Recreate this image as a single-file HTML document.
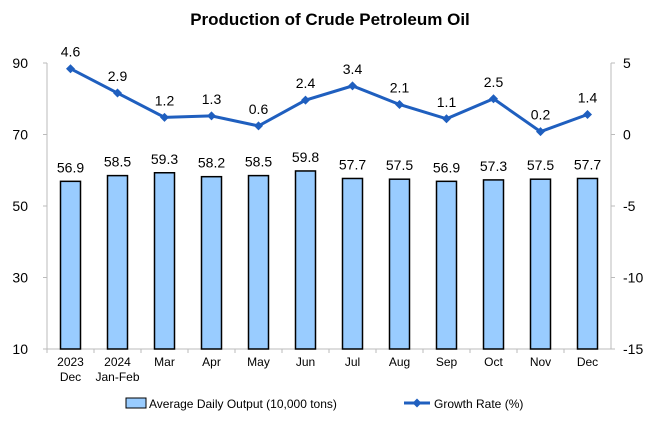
<!DOCTYPE html>
<html><head><meta charset="utf-8"><style>
body{margin:0;background:#fff;font-family:"Liberation Sans",Arial,sans-serif}
svg text{font-family:"Liberation Sans",Arial,sans-serif}
</style></head><body>
<svg id="c" width="660" height="440">
<text x="330" y="25" text-anchor="middle" font-size="17" font-weight="bold">Production of Crude Petroleum Oil</text>
</svg>
<script>
const categories=[["2023","Dec"],["2024","Jan-Feb"],["Mar"],["Apr"],["May"],["Jun"],["Jul"],["Aug"],["Sep"],["Oct"],["Nov"],["Dec"]];
const output=[56.9,58.5,59.3,58.2,58.5,59.8,57.7,57.5,56.9,57.3,57.5,57.7];
const growth=[4.6,2.9,1.2,1.3,0.6,2.4,3.4,2.1,1.1,2.5,0.2,1.4];
const leftTicks=[10,30,50,70,90];
const rightTicks=[-15,-10,-5,0,5];
const svg=document.getElementById('c');
const NS='http://www.w3.org/2000/svg';
const X0=47,X1=611,Y0=349,Y1=63;
const bw=(X1-X0)/categories.length;
const yL=v=>Y0-(v-10)/80*(Y0-Y1);
const yR=v=>Y0-(v+15)/20*(Y0-Y1);
const xc=i=>X0+bw*(i+0.5);
function mk(t,a,txt){const e=document.createElementNS(NS,t);for(const k in a)e.setAttribute(k,a[k]);if(txt!=null)e.textContent=txt;svg.appendChild(e);return e;}
let ax=mk('line',{x1:X0,y1:Y1,x2:X0,y2:Y0,stroke:'#bbb'});


ax=mk('line',{x1:X1,y1:Y1,x2:X1,y2:Y0,stroke:'#bbb'});


ax=mk('line',{x1:X0,y1:Y0,x2:X1,y2:Y0,stroke:'#bbb'});


leftTicks.forEach(v=>{
 mk('line',{x1:X0-4,y1:yL(v),x2:X0,y2:yL(v),stroke:'#bbb'});
 const t=mk('text',{x:28,y:yL(v)+5,'text-anchor':'end','font-size':14},v);
 
 
});
rightTicks.forEach(v=>{
 mk('line',{x1:X1,y1:yR(v),x2:X1+4,y2:yR(v),stroke:'#bbb'});
 const t=mk('text',{x:623,y:yR(v)+5,'font-size':14},v);
 
 
});
categories.forEach((c,i)=>{
 mk('line',{x1:X0+bw*i,y1:Y0,x2:X0+bw*i,y2:Y0+4,stroke:'#bbb'});
 c.forEach((s,j)=>{const t=mk('text',{x:xc(i),y:366+j*15,'text-anchor':'middle','font-size':12},s);
 
 });
});
output.forEach((v,i)=>{
 const b=mk('rect',{x:xc(i)-10,y:yL(v),width:20,height:Y0-yL(v),fill:'#99ccff',stroke:'#000','stroke-width':1.5});
 
 
 const t=mk('text',{x:xc(i),y:yL(v)-9,'text-anchor':'middle','font-size':14},v.toFixed(1));
 
 
});
const ln=mk('polyline',{points:growth.map((v,i)=>xc(i)+','+yR(v)).join(' '),fill:'none',stroke:'#1f5fbf','stroke-width':3});


growth.forEach((v,i)=>{
 const x=xc(i),y=yR(v);
 const d=mk('polygon',{points:`${x},${y-4.5} ${x+4.5},${y} ${x},${y+4.5} ${x-4.5},${y}`,fill:'#1f5fbf'});
 
 
 const t=mk('text',{x:x,y:y-12,'text-anchor':'middle','font-size':14},v.toFixed(1));
 
 
});
let e=mk('rect',{x:126,y:398,width:20,height:10,fill:'#99ccff',stroke:'#000'});


e=mk('text',{x:149,y:408,'font-size':12},'Average Daily Output (10,000 tons)');


e=mk('line',{x1:404,y1:403,x2:430,y2:403,stroke:'#1f5fbf','stroke-width':3});


e=mk('polygon',{points:'417,398.5 421.5,403 417,407.5 412.5,403',fill:'#1f5fbf'});


e=mk('text',{x:434,y:408,'font-size':12},'Growth Rate (%)');


</script>
</body></html>
